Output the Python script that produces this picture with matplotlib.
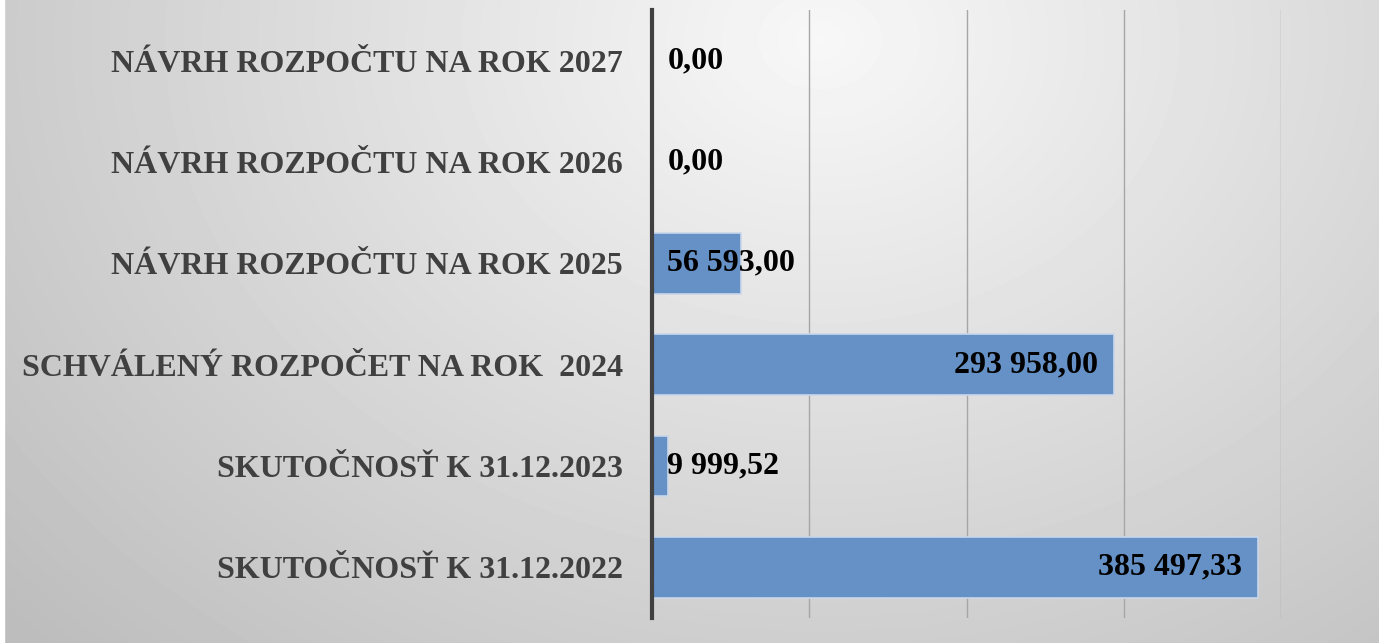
import numpy as np
import matplotlib.pyplot as plt

categories = ["SKUTOČNOSŤ K 31.12.2022", "SKUTOČNOSŤ K 31.12.2023",
              "SCHVÁLENÝ ROZPOČET NA ROK  2024", "NÁVRH ROZPOČTU NA ROK 2025",
              "NÁVRH ROZPOČTU NA ROK 2026", "NÁVRH ROZPOČTU NA ROK 2027"]
values = [385497.33, 9999.52, 293958.00, 56593.00, 0.00, 0.00]
labels = ["385 497,33", "9 999,52", "293 958,00", "56 593,00", "0,00", "0,00"]

W, H = 1379, 643
fig = plt.figure(figsize=(W / 100, H / 100), dpi=100)

# gray radial-ish background
bg = fig.add_axes([0, 0, 1, 1], zorder=-10)
yy, xx = np.mgrid[0:H, 0:W]
d = np.sqrt(((xx - 820) / 950.0) ** 2 + ((yy - 40) / 750.0) ** 2)
shade = np.clip(0.97 - 0.2 * d, 0.74, 1)
bg.imshow(shade, cmap="gray", vmin=0, vmax=1, aspect="auto", extent=[0, W, H, 0])
bg.axvspan(0, 4, color="white")
bg.set_xlim(0, W)
bg.set_ylim(H, 0)
bg.axis("off")

x0, x1 = 652, 1281
y_top, y_bot = 10, 618
ax = fig.add_axes([x0 / W, 1 - y_bot / H, (x1 - x0) / W, (y_bot - y_top) / H])
ax.set_facecolor("none")

y = np.arange(len(categories))
ax.barh(y, values, height=0.6, color="#6591c6", edgecolor="#c9d7ea", linewidth=1.2, zorder=3)
ax.set_xlim(0, 400000)
ax.set_ylim(-0.5, len(categories) - 0.5)
ax.set_xticks([100000, 200000, 300000, 400000])
ax.xaxis.grid(True, color="#a6a6a6", linewidth=1, zorder=0)
ax.tick_params(axis="x", length=0, labelbottom=False)
ax.tick_params(axis="y", length=0, pad=21)
ax.set_yticks(y)
ax.set_yticklabels(categories, fontfamily="Liberation Serif", fontweight="bold",
                   fontsize=23, color="#404040")
for s in ["top", "right", "bottom"]:
    ax.spines[s].set_visible(False)
ax.spines["left"].set_color("#404040")
ax.spines["left"].set_linewidth(3)
ax.spines["left"].set_zorder(5)

for i, (v, lab) in enumerate(zip(values, labels)):
    if v > 150000:
        ax.annotate(lab, (v, i), xytext=(-12, 0), textcoords="offset points",
                    ha="right", va="center", fontfamily="Liberation Serif",
                    fontweight="bold", fontsize=23, color="black", zorder=6)
    else:
        ax.annotate(lab, (0, i), xytext=(11, 0), textcoords="offset points",
                    ha="left", va="center", fontfamily="Liberation Serif",
                    fontweight="bold", fontsize=23, color="black", zorder=6)

fig.savefig("out.png", dpi=100)
